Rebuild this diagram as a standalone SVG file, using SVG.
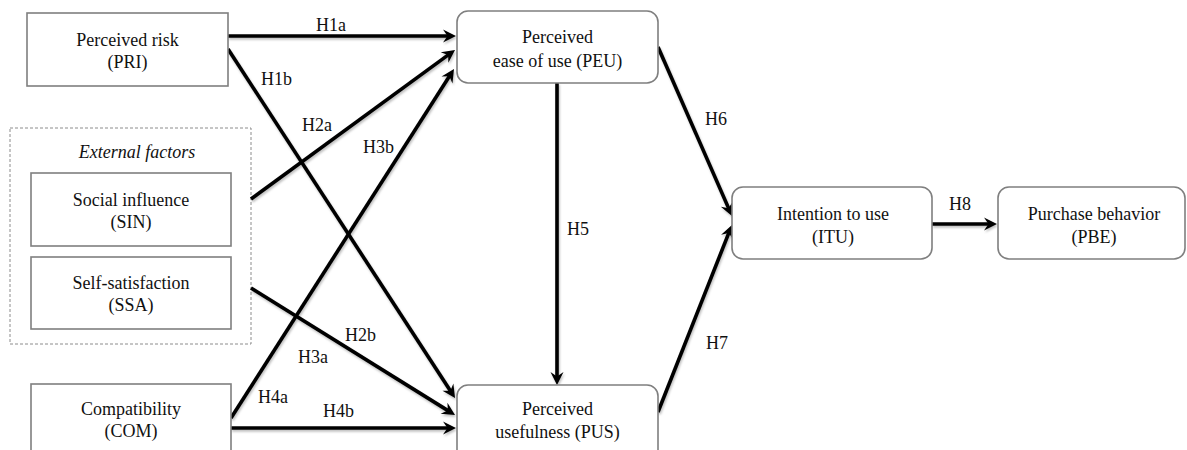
<svg xmlns="http://www.w3.org/2000/svg" width="1187" height="450" viewBox="0 0 1187 450">
<style>
  .box{fill:#fff;stroke:#7f7f7f;stroke-width:1.6}
  .grp{fill:none;stroke:#8c8c8c;stroke-width:1;stroke-dasharray:3 2}
  text{font-family:"Liberation Serif","Times New Roman",Times,Tinos,"Noto Serif","DejaVu Serif",serif;font-size:18px;fill:#111}
  .t{text-anchor:middle}
  .c{fill:none;stroke:#000;stroke-width:3.6;marker-end:url(#arr)}
</style>
<defs>
  <marker id="arr" markerUnits="userSpaceOnUse" viewBox="-15 -8 17 16" markerWidth="17" markerHeight="16" refX="-5" refY="0" orient="auto">
    <path d="M-13,-6.5 L0,0 L-13,6.5 L-8.5,0 Z" fill="#000"/>
  </marker>
  <filter id="sh" x="-10%" y="-10%" width="130%" height="130%">
    <feDropShadow dx="1" dy="2" stdDeviation="1.2" flood-color="#000" flood-opacity="0.25"/>
  </filter>
</defs>
<rect width="1187" height="450" fill="#fff"/>

<g id="external-factors">
  <rect class="grp" x="10" y="128" width="241" height="216"/>
  <text class="t" x="137" y="158" font-style="italic">External factors</text>
</g>

<g id="connectors" filter="url(#sh)">
  <line class="c" x1="228" y1="36" x2="451" y2="36"/>
  <line class="c" x1="228" y1="49" x2="452.3" y2="393.8"/>
  <line class="c" x1="251" y1="199" x2="451" y2="52.9"/>
  <line class="c" x1="251" y1="288" x2="450.8" y2="412.4"/>
  <line class="c" x1="231" y1="418" x2="451.3" y2="73.2"/>
  <line class="c" x1="231" y1="428" x2="451" y2="428"/>
  <line class="c" x1="557" y1="83" x2="557" y2="380"/>
  <line class="c" x1="658" y1="47" x2="730" y2="211.4"/>
  <line class="c" x1="658" y1="412" x2="730.1" y2="229.7"/>
  <line class="c" x1="932" y1="224" x2="992" y2="224"/>
</g>

<g id="labels">
  <text x="316" y="31">H1a</text>
  <text x="261" y="85">H1b</text>
  <text x="302" y="131">H2a</text>
  <text x="363" y="153">H3b</text>
  <text x="345" y="341">H2b</text>
  <text x="298" y="363">H3a</text>
  <text x="258" y="403">H4a</text>
  <text x="323" y="417">H4b</text>
  <text x="567" y="235">H5</text>
  <text x="705" y="125">H6</text>
  <text x="706" y="349">H7</text>
  <text x="949" y="210">H8</text>
</g>

<g id="PRI">
  <rect class="box" x="27" y="13" width="201" height="73"/>
  <text class="t" x="127.5" y="46">Perceived risk</text>
  <text class="t" x="127.5" y="68">(PRI)</text>
</g>
<g id="SIN">
  <rect class="box" x="31" y="173" width="200" height="73"/>
  <text class="t" x="131" y="206">Social influence</text>
  <text class="t" x="131" y="228">(SIN)</text>
</g>
<g id="SSA">
  <rect class="box" x="31" y="257" width="200" height="72"/>
  <text class="t" x="131" y="289">Self-satisfaction</text>
  <text class="t" x="131" y="311">(SSA)</text>
</g>
<g id="COM">
  <rect class="box" x="31" y="384" width="200" height="80"/>
  <text class="t" x="131" y="415">Compatibility</text>
  <text class="t" x="131" y="437">(COM)</text>
</g>
<g id="PEU">
  <rect class="box" x="457" y="11" width="201" height="72" rx="11"/>
  <text class="t" x="557.5" y="43">Perceived</text>
  <text class="t" x="557.5" y="67">ease of use (PEU)</text>
</g>
<g id="PUS">
  <rect class="box" x="457" y="385" width="201" height="80" rx="11"/>
  <text class="t" x="557.5" y="415">Perceived</text>
  <text class="t" x="557.5" y="438">usefulness (PUS)</text>
</g>
<g id="ITU">
  <rect class="box" x="732" y="187" width="200" height="72" rx="11"/>
  <text class="t" x="833" y="220">Intention to use</text>
  <text class="t" x="833" y="243">(ITU)</text>
</g>
<g id="PBE">
  <rect class="box" x="998" y="187" width="187" height="72" rx="11"/>
  <text class="t" x="1094" y="220">Purchase behavior</text>
  <text class="t" x="1094" y="243">(PBE)</text>
</g>
</svg>
